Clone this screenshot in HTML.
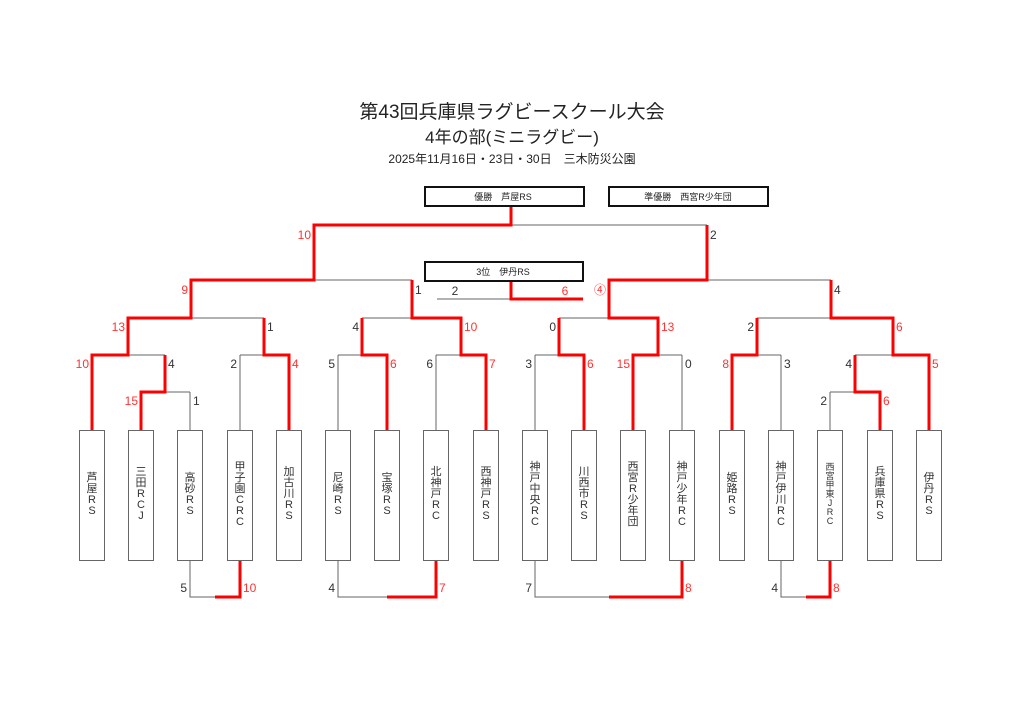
<!DOCTYPE html>
<html><head><meta charset="utf-8"><style>
body{margin:0;background:#fff;}
.w{position:relative;width:1024px;height:721px;overflow:hidden;font-family:"Liberation Sans","Noto Sans CJK JP",sans-serif;}
.t{position:absolute;left:0;width:1024px;text-align:center;color:#222;white-space:nowrap;}
.b{position:absolute;top:430px;width:24px;height:129px;border:1px solid #666;display:flex;flex-direction:column;align-items:center;justify-content:center;font-size:11px;line-height:13px;color:#333;}
.b span{display:block;height:13px;margin-top:-2px}
</style></head><body><div class="w">
<div class="t" style="top:97px;font-size:19px;">第43回兵庫県ラグビースクール大会</div>
<div class="t" style="top:123px;font-size:17px;">4年の部(ミニラグビー)</div>
<div class="t" style="top:150px;font-size:12px;">2025年11月16日・23日・30日　三木防災公園</div>
<svg width="1024" height="721" style="position:absolute;left:0;top:0" font-family="Liberation Sans, Noto Sans CJK JP, sans-serif">
<g stroke="#666" stroke-width="1" fill="none">
<path d="M92 355V430M141 392V430M190 392V430M240 355V430M289 355V430M338 355V430M387 355V430M436 355V430M486 355V430M535 355V430M584 355V430M633 355V430M682 355V430M732 355V430M781 355V430M830 392V430M880 392V430M929 355V430"/>
<path d="M141 392H190M830 392H880M165 355V392M855 355V392"/>
<path d="M92 355H165M240 355H289M338 355H387M436 355H486M535 355H584M633 355H682M732 355H781M855 355H929"/>
<path d="M128 318V355M264 318V355M362 318V355M461 318V355M559 318V355M658 318V355M757 318V355M893 318V355"/>
<path d="M128 318H264M362 318H461M559 318H658M757 318H893M191 280V318M412 280V318M609 280V318M831 280V318M191 280H412M609 280H831M314 225V280M707 225V280M314 225H707M511 206V225"/>
<path d="M437 299H583"/>
<path d="M190 560V597H240V560M338 560V597H436V560M535 560V597H682V560M781 560V597H830V560"/>
</g>
<g stroke="#f00" stroke-width="3" fill="none">
<path d="M92 430V355H128V318H191V280H314V225H511V206"/>
<path d="M141 430V392H165V355"/>
<path d="M289 430V355H264V318"/>
<path d="M387 430V355H362V318"/>
<path d="M486 430V355H461V318H412V280"/>
<path d="M584 430V355H559V318"/>
<path d="M633 430V355H658V318H609V280H707V225"/>
<path d="M732 430V355H757V318"/>
<path d="M880 430V392H855V355"/>
<path d="M929 430V355H893V318H831V280"/>
<path d="M511 281V299H583"/>
<path d="M240 560V597H215M436 560V597H387M682 560V597H609M830 560V597H806"/>
</g>
<g fill="none" stroke="#111" stroke-width="2">
<rect x="425" y="187" width="159" height="19"/>
<rect x="609" y="187" width="159" height="19"/>
<rect x="425" y="262" width="158" height="19"/>
</g>
<g font-size="9" fill="#222">
<text x="503" y="200" text-anchor="middle">優勝　芦屋RS</text>
<text x="688" y="200" text-anchor="middle">準優勝　西宮R少年団</text>
<text x="503" y="275" text-anchor="middle">3位　伊丹RS</text>
</g>
<g font-size="12" fill="#333">
<g text-anchor="start">
<text x="710" y="239">2</text><text x="415" y="294">1</text><text x="834" y="294">4</text>
<text x="267" y="331">1</text><text x="168" y="368">4</text><text x="685" y="368">0</text><text x="784" y="368">3</text><text x="193" y="405">1</text>
</g>
<g text-anchor="end">
<text x="359" y="331">4</text><text x="556" y="331">0</text><text x="754" y="331">2</text>
<text x="237" y="368">2</text><text x="335" y="368">5</text><text x="433" y="368">6</text><text x="532" y="368">3</text><text x="852" y="368">4</text>
<text x="827" y="405">2</text>
<text x="187" y="592">5</text><text x="335" y="592">4</text><text x="532" y="592">7</text><text x="778" y="592">4</text>
</g>
<text x="455" y="295" text-anchor="middle">2</text>
</g>
<g font-size="12" fill="#f33">
<g text-anchor="end">
<text x="311" y="239">10</text><text x="188" y="294">9</text><text x="606" y="294">④</text>
<text x="125" y="331">13</text><text x="89" y="368">10</text><text x="630" y="368">15</text><text x="729" y="368">8</text><text x="138" y="405">15</text>
</g>
<g text-anchor="start">
<text x="464" y="331">10</text><text x="661" y="331">13</text><text x="896" y="331">6</text>
<text x="292" y="368">4</text><text x="390" y="368">6</text><text x="489" y="368">7</text><text x="587" y="368">6</text><text x="932" y="368">5</text>
<text x="883" y="405">6</text>
<text x="243" y="592">10</text><text x="439" y="592">7</text><text x="685" y="592">8</text><text x="833" y="592">8</text>
</g>
<text x="565" y="295" text-anchor="middle">6</text>
</g>
</svg>
<div class="b" style="left:79px"><span>芦</span><span>屋</span><span>R</span><span>S</span></div>
<div class="b" style="left:128px"><span>三</span><span>田</span><span>R</span><span>C</span><span>J</span></div>
<div class="b" style="left:177px"><span>高</span><span>砂</span><span>R</span><span>S</span></div>
<div class="b" style="left:227px"><span>甲</span><span>子</span><span>園</span><span>C</span><span>R</span><span>C</span></div>
<div class="b" style="left:276px"><span>加</span><span>古</span><span>川</span><span>R</span><span>S</span></div>
<div class="b" style="left:325px"><span>尼</span><span>崎</span><span>R</span><span>S</span></div>
<div class="b" style="left:374px"><span>宝</span><span>塚</span><span>R</span><span>S</span></div>
<div class="b" style="left:423px"><span>北</span><span>神</span><span>戸</span><span>R</span><span>C</span></div>
<div class="b" style="left:473px"><span>西</span><span>神</span><span>戸</span><span>R</span><span>S</span></div>
<div class="b" style="left:522px"><span>神</span><span>戸</span><span>中</span><span>央</span><span>R</span><span>C</span></div>
<div class="b" style="left:571px"><span>川</span><span>西</span><span>市</span><span>R</span><span>S</span></div>
<div class="b" style="left:620px"><span>西</span><span>宮</span><span>R</span><span>少</span><span>年</span><span>団</span></div>
<div class="b" style="left:669px"><span>神</span><span>戸</span><span>少</span><span>年</span><span>R</span><span>C</span></div>
<div class="b" style="left:719px"><span>姫</span><span>路</span><span>R</span><span>S</span></div>
<div class="b" style="left:768px"><span>神</span><span>戸</span><span>伊</span><span>川</span><span>R</span><span>C</span></div>
<div class="b" style="left:817px;font-size:9px;line-height:11px"><span style="height:11px">西</span><span style="height:11px">宮</span><span style="height:11px">甲</span><span style="height:11px">東</span><span style="height:11px">J</span><span style="height:11px">R</span><span style="height:11px">C</span></div>
<div class="b" style="left:867px"><span>兵</span><span>庫</span><span>県</span><span>R</span><span>S</span></div>
<div class="b" style="left:916px"><span>伊</span><span>丹</span><span>R</span><span>S</span></div>
</div></body></html>
